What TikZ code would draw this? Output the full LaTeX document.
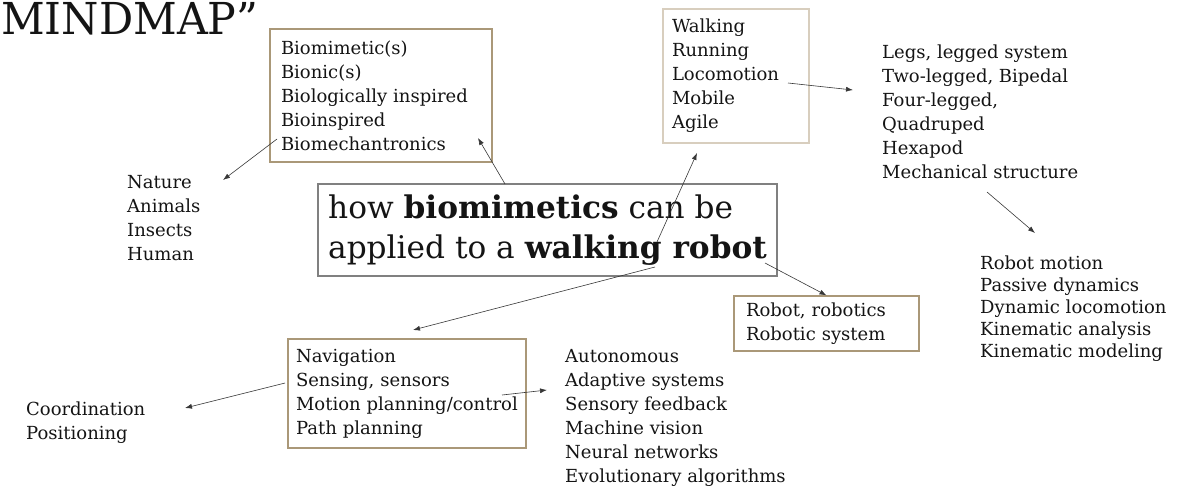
\documentclass[tikz,border=0pt]{standalone}
\usepackage{fontspec}
\setmainfont{DejaVu Serif}
\newfontfamily\titlefont[FakeStretch=0.97]{DejaVu Serif}
\usetikzlibrary{arrows.meta}
\definecolor{boxtan}{RGB}{170,152,120}
\definecolor{boxpale}{RGB}{216,206,190}
\definecolor{ink}{RGB}{20,20,20}
\definecolor{wire}{RGB}{55,55,55}
\tikzset{>={Latex[length=7pt,width=5pt]},
  listtext/.style={align=left, inner sep=0pt, text=ink, font=\fontsize{18}{24}\selectfont},
  tanbox/.style={listtext, draw=boxtan, line width=1.2pt},
  link/.style={->, draw=wire, line width=0.6pt}}

\begin{document}
\begin{tikzpicture}[x=1pt, y=-1pt]
\useasboundingbox (0,0) rectangle (1183,487);

\node[anchor=base west, inner sep=0pt, text=ink, font=\titlefont\fontsize{44}{44}\selectfont] (title) at (1,35) {MINDMAP”};

% boxes
\node[tanbox, minimum width=222, minimum height=133, text width=200, inner xsep=11] (bio) at (381,95.5)
  {Biomimetic(s)\\Bionic(s)\\Biologically inspired\\Bioinspired\\Biomechantronics};
\node[tanbox, draw=boxpale, minimum width=146, minimum height=134, text width=128, inner xsep=9] (walk) at (736,76)
  {Walking\\Running\\Locomotion\\Mobile\\Agile};
\node[draw=gray, line width=1.2pt, text=ink, align=left, minimum width=459, minimum height=92,
  font=\fontsize{31.2}{40}\selectfont] (core) at (547.5,230)
  {how \textbf{biomimetics} can be\\applied to a \textbf{walking robot}};
\node[tanbox, minimum width=185, minimum height=55, text width=161, inner xsep=12] (robot) at (826.5,323.5)
  {Robot, robotics\\Robotic system};
\node[tanbox, minimum width=238, minimum height=109, text width=222, inner xsep=8] (nav) at (407,393.5)
  {Navigation\\Sensing, sensors\\Motion planning/control\\Path planning};

% free lists
\node[listtext, anchor=west] (legs) at (882,112)
  {Legs, legged system\\Two-legged, Bipedal\\Four-legged,\\Quadruped\\Hexapod\\Mechanical structure};
\node[listtext, anchor=west, font=\fontsize{18}{22}\selectfont] (motion) at (980,308.5)
  {Robot motion\\Passive dynamics\\Dynamic locomotion\\Kinematic analysis\\Kinematic modeling};
\node[listtext, anchor=west] (nature) at (127,218.5)
  {Nature\\Animals\\Insects\\Human};
\node[listtext, anchor=west] (coord) at (26,422.5)
  {Coordination\\Positioning};
\node[listtext, anchor=west] (auto) at (565,417.5)
  {Autonomous\\Adaptive systems\\Sensory feedback\\Machine vision\\Neural networks\\Evolutionary algorithms};

% arrow ends
\coordinate (bioTail) at (277,139);
\coordinate (natureTip) at (223,180);
\coordinate (coreTop) at (505,184);
\coordinate (bioTip) at (478,138);
\coordinate (walkTail) at (657,242);
\coordinate (walkTip) at (697,153);
\coordinate (navTail) at (655,267);
\coordinate (navTip) at (413,330);
\coordinate (robotTail) at (765,263);
\coordinate (locoTail) at (788,83);
\coordinate (legsTip) at (853,90);
\coordinate (mechTail) at (987,192);
\coordinate (motionTip) at (1035,233);
\coordinate (sensTail) at (285,383);
\coordinate (coordTip) at (185,408);
\coordinate (planTail) at (502,395);
\coordinate (autoTip) at (547,390);

\foreach \a/\b in {bioTail/natureTip, coreTop/bioTip, walkTail/walkTip, navTail/navTip,
    robotTail/robot.north, locoTail/legsTip, mechTail/motionTip, sensTail/coordTip, planTail/autoTip}
  \draw[link] (\a) -- (\b);

\end{tikzpicture}
\end{document}
